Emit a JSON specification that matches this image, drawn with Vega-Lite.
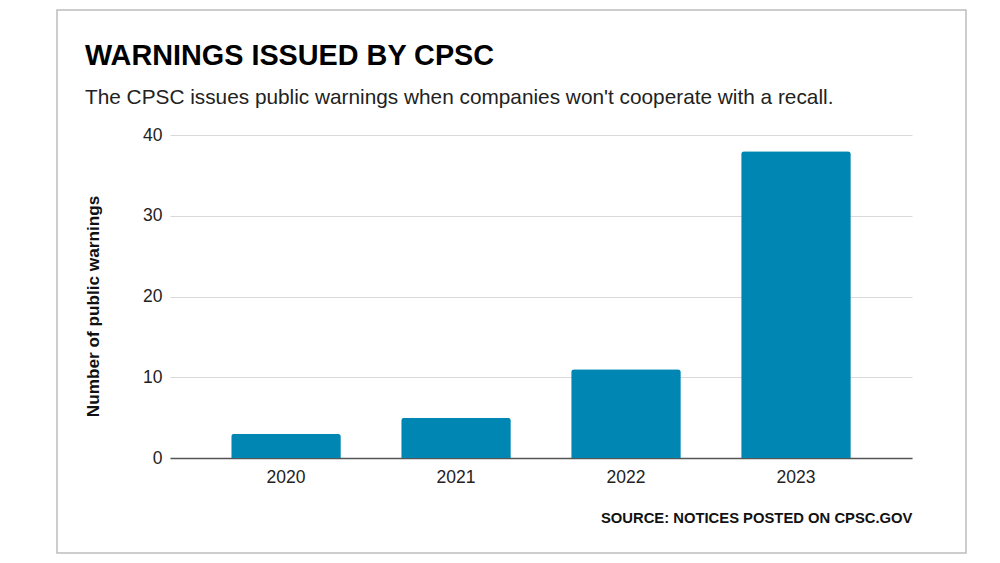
{
  "$schema": "https://vega.github.io/schema/vega-lite/v6.json",
  "width": 909,
  "height": 543,
  "autosize": {"type": "none"},
  "padding": {"left": 57, "top": 10, "right": 34, "bottom": 10},
  "background": "white",
  "title": {
    "text": "WARNINGS ISSUED BY CPSC",
    "subtitle": "The CPSC issues public warnings when companies won't cooperate with a recall.",
    "anchor": "start",
    "frame": "group",
    "dx": 28,
    "offset": -98,
    "fontSize": 28.8,
    "fontWeight": "bold",
    "color": "#000000",
    "subtitleFontSize": 20.8,
    "subtitleColor": "#222222",
    "subtitlePadding": 17
  },
  "data": {
    "values": [
      {"year": "2020", "warnings": 3},
      {"year": "2021", "warnings": 5},
      {"year": "2022", "warnings": 11},
      {"year": "2023", "warnings": 38}
    ]
  },
  "mark": {"type": "bar", "color": "#0086b3", "cornerRadiusTopLeft": 3, "cornerRadiusTopRight": 3},
  "encoding": {
    "x": {
      "field": "year",
      "type": "ordinal",
      "scale": {"range": [113, 855], "paddingInner": 0.355, "paddingOuter": 0.36},
      "axis": {
        "orient": "bottom",
        "offset": -95,
        "labelAngle": 0,
        "ticks": false,
        "grid": false,
        "domainColor": "#555555",
        "domainWidth": 1.5,
        "labelPadding": 10,
        "labelFontSize": 17.5,
        "labelColor": "#222222",
        "title": "SOURCE: NOTICES POSTED ON CPSC.GOV",
        "titleAnchor": "end",
        "titleAlign": "right",
        "titleFontSize": 14.8,
        "titleFontWeight": "bold",
        "titleColor": "#111111",
        "titlePadding": 25
      }
    },
    "y": {
      "field": "warnings",
      "type": "quantitative",
      "scale": {"domain": [0, 40], "range": [448, 125], "nice": false},
      "axis": {
        "orient": "left",
        "offset": -113,
        "values": [0, 10, 20, 30, 40],
        "domain": false,
        "ticks": false,
        "grid": true,
        "gridColor": "#d9d9d9",
        "gridWidth": 1,
        "labelPadding": 8,
        "labelFontSize": 17.5,
        "labelColor": "#222222",
        "title": "Number of public warnings",
        "titleFontSize": 17.2,
        "titleFontWeight": "bold",
        "titleColor": "#111111",
        "titlePadding": 40,
        "titleY": 296
      }
    }
  },
  "config": {
    "font": "Liberation Sans",
    "view": {"stroke": "#bdbdbd", "strokeWidth": 1.5}
  }
}
